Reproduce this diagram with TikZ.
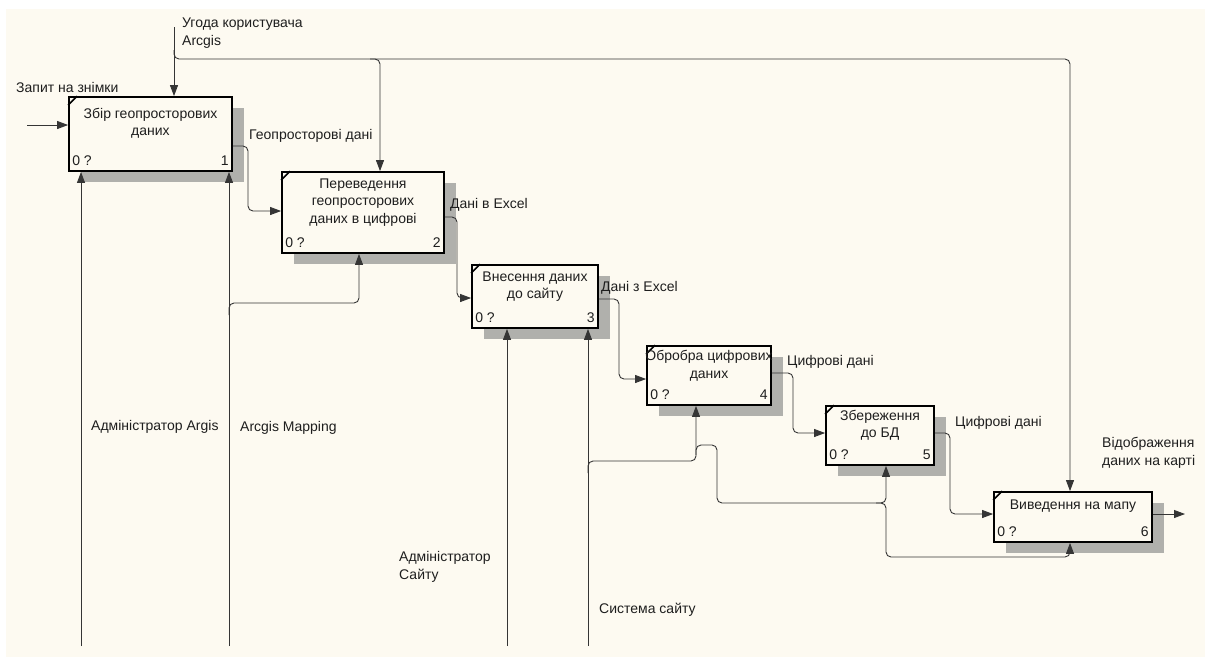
\documentclass[tikz,border=0pt]{standalone}
\usepackage{fontspec}
\setmainfont{Liberation Sans}
\usetikzlibrary{arrows.meta,calc}
\definecolor{bg}{RGB}{253,250,241}
\definecolor{shadowgrey}{RGB}{176,176,172}
\definecolor{ink}{RGB}{30,30,30}
\tikzset{
  box/.style={draw=black, line width=1.8pt, fill=bg, rectangle, inner sep=0pt},
  conn/.style={draw=ink!90, line width=0.9pt, rounded corners=5pt},
  arr/.style={conn, -{Triangle[length=11pt,width=8pt]}},
  lbl/.style={font=\fontsize{14}{18}\selectfont, text=ink, inner sep=0pt, align=left},
  ttl/.style={font=\fontsize{14}{17.5}\selectfont, text=ink, inner sep=0pt, align=center},
  tick/.style={draw=black, line width=1.5pt},
  boxshadow/.style={fill=shadowgrey},
}
% name, left, top, right, bottom, title y, title, number
\newcommand{\idefbox}[8]{%
  \path[boxshadow] ({#2+12},{#3+11}) rectangle ({#4+12},{#5+11});
  \node[box, minimum width={#4-#2}, minimum height={#5-#3}] (#1) at ({(#2+#4)/2},{(#3+#5)/2}) {};
  \draw[tick] ($(#1.north west)+(0,9)$) -- ($(#1.north west)+(9,0)$);
  \node[ttl] (#1-t) at ({(#2+#4)/2},#6) {#7};
  \node[lbl, anchor=base west] (#1-c) at ($(#1.south west)+(4,-6)$) {0 ?};
  \node[lbl, anchor=base east] (#1-n) at ($(#1.south east)+(-4,-6)$) {#8};
}
\begin{document}
\begin{tikzpicture}[x=1pt,y=-1pt]
\useasboundingbox (0,0) rectangle (1205,657);
\fill[white] (0,0) rectangle (1205,657);
\fill[bg] (6,9) rectangle (1205,657);

% boxes
\idefbox{b1}{69}{97}{232}{171}{123.5}{Збір геопросторових\\даних}{1}
\idefbox{b2}{282}{172}{444}{253}{202.5}{Переведення\\геопросторових\\даних в цифрові}{2}
\idefbox{b3}{472}{265}{598}{328}{286.5}{Внесення даних\\до сайту}{3}
\idefbox{b4}{647}{346}{771}{405}{366}{Обробра цифрових\\даних}{4}
\idefbox{b5}{826}{406}{934}{465}{425.5}{Збереження\\до БД}{5}
\idefbox{b6}{994}{492}{1152}{542}{506}{Виведення на мапу}{6}

% input
\coordinate (inA) at (27,125);
\draw[arr] (inA) -- (inA -| b1.west);

% control
\coordinate (ctlA) at (174,27);
\coordinate (ctlS) at (174,50);
\coordinate (ctlJ) at (174,59);
\coordinate (c2) at (380,59);
\coordinate (c6) at (1070,59);
\draw[arr] (ctlA) -- (ctlA |- b1.north);
\draw[arr] (ctlS) -- (ctlJ) -- (c6) -- (c6 |- b6.north);
\draw[arr] ($(c2)+(-10,0)$) -- (c2) -- (c2 |- b2.north);

% outputs
\coordinate (o1a) at (248,146); \coordinate (o1b) at (248,211);
\draw[arr] (b1.east |- o1a) -- (o1a) -- (o1b) -- (o1b -| b2.west);
\coordinate (o2a) at (457,217); \coordinate (o2b) at (457,298);
\draw[arr] (b2.east |- o2a) -- (o2a) -- (o2b) -- (o2b -| b3.west);
\coordinate (o3a) at (619,299); \coordinate (o3b) at (619,379);
\draw[arr] (b3.east |- o3a) -- (o3a) -- (o3b) -- (o3b -| b4.west);
\coordinate (o4a) at (793,373); \coordinate (o4b) at (793,433);
\draw[arr] (b4.east |- o4a) -- (o4a) -- (o4b) -- (o4b -| b5.west);
\coordinate (o5a) at (950,433); \coordinate (o5b) at (950,514);
\draw[arr] (b5.east |- o5a) -- (o5a) -- (o5b) -- (o5b -| b6.west);
\coordinate (out6) at (1185,514);
\draw[arr] (b6.east |- out6) -- (out6);

% mechanisms
\coordinate (m1) at (81,646);
\draw[arr] (m1) -- (m1 |- b1.south);
\coordinate (m2) at (229,646);
\draw[arr] (m2) -- (m2 |- b1.south);
\coordinate (m2j) at (229,303); \coordinate (m2k) at (359,303);
\draw[arr] ($(m2j)+(0,12)$) -- (m2j) -- (m2k) -- (m2k |- b2.south);
\coordinate (m3) at (507,646);
\draw[arr] (m3) -- (m3 |- b3.south);
\coordinate (m4) at (588,646);
\draw[arr] (m4) -- (m4 |- b3.south);
\coordinate (m4j) at (588,461); \coordinate (m4k) at (696,461);
\draw[arr] ($(m4j)+(0,12)$) -- (m4j) -- (m4k) -- (m4k |- b4.south);
\coordinate (m4p) at (696,445); \coordinate (m4q) at (717,445);
\coordinate (m4r) at (717,503); \coordinate (m4s) at (886,503);
\draw[arr] ($(m4p)+(0,10)$) -- (m4p) -- (m4q) -- (m4r) -- (m4s) -- (m4s |- b5.south);
\coordinate (m4t) at (886,557); \coordinate (m4u) at (1070,557);
\draw[arr] ($(m4s)+(-10,0)$) -- (m4s) -- (m4t) -- (m4u) -- (m4u |- b6.south);

% labels
\node[lbl, anchor=west] (tZapyt) at (16,87) {Запит на знімки};
\node[lbl, anchor=west] (tUgoda) at (182,33) {Угода користувача\\Arcgis};
\node[lbl, anchor=west] (tGeo) at (249,136) {Геопросторові дані};
\node[lbl, anchor=west] (tDv) at (450,205) {Дані в Excel};
\node[lbl, anchor=west] (tDz) at (601,288) {Дані з Excel};
\node[lbl, anchor=west] (tCy1) at (787,362) {Цифрові дані};
\node[lbl, anchor=west] (tCy2) at (955,423) {Цифрові дані};
\node[lbl, anchor=west] (tVid) at (1102,452.5) {Відображення\\даних на карті};
\node[lbl, anchor=west] (tAdmA) at (91,427) {Адміністратор Argis};
\node[lbl, anchor=west] (tMap) at (240,428) {Arcgis Mapping};
\node[lbl, anchor=west] (tAdmS) at (399,567) {Адміністратор\\Сайту};
\node[lbl, anchor=west] (tSys) at (599,610) {Система сайту};
\end{tikzpicture}
\end{document}
